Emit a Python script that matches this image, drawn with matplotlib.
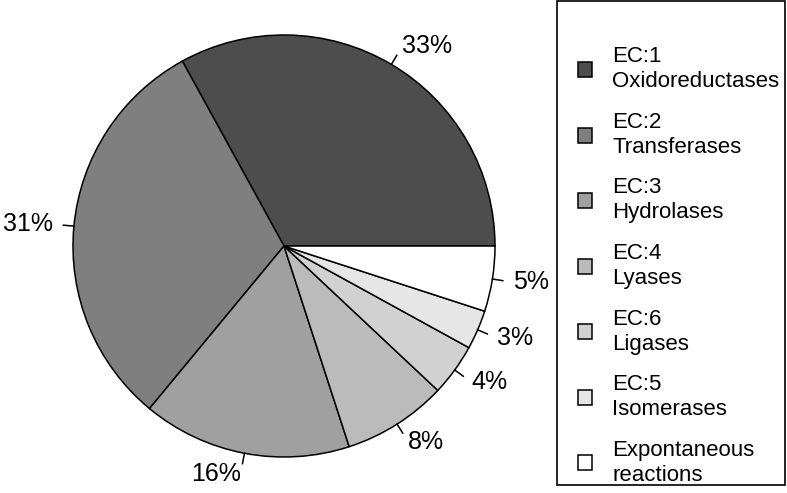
import numpy as np
import matplotlib
matplotlib.use('Agg')
import matplotlib.pyplot as plt
from matplotlib.patches import Rectangle

plt.rcParams['font.family'] = ['Liberation Sans', 'DejaVu Sans']

# data
classes = ['EC:1\nOxidoreductases', 'EC:2\nTransferases', 'EC:3\nHydrolases',
           'EC:4\nLyases', 'EC:6\nLigases', 'EC:5\nIsomerases',
           'Expontaneous\nreactions']
percent = [33, 31, 16, 8, 4, 3, 5]
colors = ['#4d4d4d', '#7f7f7f', '#a0a0a0', '#bbbbbb', '#d1d1d1', '#e6e6e6', '#ffffff']

W, H = 787, 493
fig = plt.figure(figsize=(W / 100, H / 100), dpi=100)

# pie centre at (284, 246) px, radius 211 px
R = 211.
cx, cy = 284., 246.
ax = fig.add_axes([0, 0, 568 / W, 1])
wedges, _ = ax.pie(percent, colors=colors, startangle=0, counterclock=True,
                   radius=1, wedgeprops=dict(edgecolor='black', linewidth=1.1))
ax.set_xlim(-cx / R, cx / R)
ax.set_ylim(-(H - cy) / R, cy / R)
ax.set_aspect('auto')

# R-style labels: short tick then text
for w, p in zip(wedges, percent):
    a = np.deg2rad((w.theta1 + w.theta2) / 2)
    c, s = np.cos(a), np.sin(a)
    ax.plot([c, 1.05 * c], [s, 1.05 * s], color='black', lw=1.1)
    ax.text(1.1 * c, 1.1 * s, '%d%%' % p, fontsize=18,
            ha='left' if c > 0 else 'right', va='center')

# legend with box
fig.patches.append(Rectangle((557 / W, 1 - 485 / H), 228 / W, 484 / H,
                             transform=fig.transFigure, fill=False,
                             edgecolor='black', lw=1.2))
leg = fig.legend(wedges, classes, loc='center left',
                 bbox_to_anchor=(578 / W, 1 - 266 / H), frameon=False,
                 fontsize=16, handlelength=0.65, handleheight=0.65,
                 handletextpad=0.9, labelspacing=0.88,
                 borderpad=0, borderaxespad=0)
for t in leg.get_texts():
    t.set_linespacing(1.25)

fig.savefig('out.png', dpi=100)
